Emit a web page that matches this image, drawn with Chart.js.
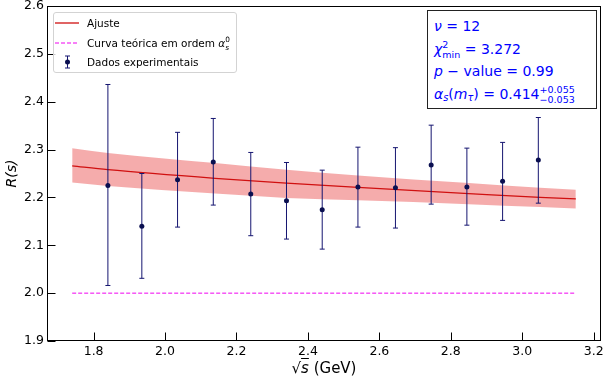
<!DOCTYPE html>
<html>
<head>
<meta charset="utf-8">
<script src="https://cdn.jsdelivr.net/npm/chart.js@4.4.0/dist/chart.umd.min.js"></script>
<style>
body{margin:0;background:#fff;}
#wrap{position:relative;width:605px;height:387px;font-family:'DejaVu Sans',sans-serif;color:#000;}
#c{position:absolute;left:0;top:0;}
#legend{position:absolute;left:53px;top:12px;width:182px;height:59px;border:1px solid #d3d3d3;border-radius:3px;background:rgba(255,255,255,0.8);font-size:10.5px;}
.row{position:absolute;left:0;height:16px;line-height:16px;width:180px;}
.row svg{position:absolute;left:1px;top:0;}
.row .t{position:absolute;left:33px;top:0;white-space:nowrap;}
#info{position:absolute;left:427px;top:10px;width:168px;height:97px;border:1px solid #222;background:#fff;color:#0000ff;font-size:14px;}
.ln{position:absolute;left:6px;height:26px;line-height:26px;white-space:nowrap;}
.ss{display:inline-block;vertical-align:middle;line-height:1;font-size:0.68em;}
.ss span{display:block;}
#xt{position:absolute;left:224px;top:358px;width:200px;height:20px;line-height:20px;text-align:center;font-size:15px;white-space:nowrap;}
.ov{text-decoration:overline;font-style:italic;}
.sm{font-size:0.7em;vertical-align:-0.25em;}
</style>
</head>
<body>
<div id="wrap">
  <canvas id="c" width="605" height="387"></canvas>

  <div id="legend">
    <div class="row" style="top:2px">
      <svg width="26" height="16"><line x1="0" y1="8" x2="24" y2="8" stroke="#d01010" stroke-width="1.3"/></svg>
      <span class="t">Ajuste</span>
    </div>
    <div class="row" style="top:21.5px">
      <svg width="26" height="16"><line x1="0" y1="8" x2="24" y2="8" stroke="#f000f0" stroke-width="1" stroke-dasharray="4,2"/></svg>
      <span class="t">Curva teórica em ordem <i>α</i><span class="ss" style="font-size:0.7em"><span>0</span><span><i>s</i></span></span></span>
    </div>
    <div class="row" style="top:41px">
      <svg width="26" height="16"><path d="M12.5 2 V14 M10 2 H15 M10 14 H15" stroke="#151570" stroke-width="1" fill="none"/><circle cx="12.5" cy="8" r="2.5" fill="#0a0f50"/></svg>
      <span class="t">Dados experimentais</span>
    </div>
  </div>

  <div id="info">
    <div class="ln" style="top:2px"><i>ν</i> = 12</div>
    <div class="ln" style="top:24.5px"><i>χ</i><span class="ss"><span>2</span><span>min</span></span> = 3.272</div>
    <div class="ln" style="top:47.2px"><i>p</i> − value = 0.99</div>
    <div class="ln" style="top:70px"><i>α</i><span class="sm"><i>s</i></span>(<i>m</i><span class="sm"><i>τ</i></span>) = 0.414<span class="ss"><span>+0.055</span><span>−0.053</span></span></div>
  </div>

  <div id="xt">√<span class="ov">s</span> (GeV)</div>
</div>

<script>
// eixos
const xTicks = [1.8, 2.0, 2.2, 2.4, 2.6, 2.8, 3.0, 3.2];
const yTicks = [1.9, 2.0, 2.1, 2.2, 2.3, 2.4, 2.5, 2.6];

const dataX = [1.84, 1.935, 2.035, 2.135, 2.24, 2.34, 2.44, 2.54, 2.645, 2.745, 2.845, 2.945, 3.045];
const dataY = [2.225, 2.140, 2.237, 2.274, 2.207, 2.193, 2.174, 2.222, 2.220, 2.268, 2.222, 2.234, 2.278];
const errHi = [2.436, 2.250, 2.336, 2.365, 2.294, 2.273, 2.257, 2.305, 2.304, 2.351, 2.303, 2.315, 2.367];
const errLo = [2.016, 2.031, 2.138, 2.184, 2.120, 2.113, 2.092, 2.138, 2.136, 2.186, 2.142, 2.152, 2.188];

// ajuste e banda
const fitX   = [1.74, 1.84, 2.14, 2.34, 2.54, 2.85, 3.05, 3.15];
const fitY   = [2.266, 2.258, 2.240, 2.230, 2.221, 2.208, 2.200, 2.197];
const bandHi = [2.303, 2.293, 2.272, 2.258, 2.246, 2.230, 2.220, 2.216];
const bandLo = [2.231, 2.224, 2.208, 2.199, 2.194, 2.186, 2.180, 2.177];

// curva teorica em ordem alpha_s^0
const lo0X = [1.74, 3.15];
const lo0Y = [2.0, 2.0];

const pts = (xs, ys) => xs.map((x, i) => ({x: x, y: ys[i]}));

Chart.defaults.font.family = "'DejaVu Sans', sans-serif";
Chart.defaults.color = '#000';

const extras = {
    id: 'extras',
    beforeDatasetDraw(chart, args) {
        if (args.index !== 4) return;
        const ctx = chart.ctx, x = chart.scales.x, y = chart.scales.y;
        ctx.save();
        ctx.strokeStyle = '#151570';
        ctx.lineWidth = 1;
        dataX.forEach((v, i) => {
            const px = x.getPixelForValue(v);
            const top = y.getPixelForValue(errHi[i]);
            const bot = y.getPixelForValue(errLo[i]);
            ctx.beginPath();
            ctx.moveTo(px, top); ctx.lineTo(px, bot);
            ctx.moveTo(px - 2.5, top); ctx.lineTo(px + 2.5, top);
            ctx.moveTo(px - 2.5, bot); ctx.lineTo(px + 2.5, bot);
            ctx.stroke();
        });
        ctx.restore();
    },
    afterDraw(chart) {
        const ctx = chart.ctx, a = chart.chartArea, x = chart.scales.x, y = chart.scales.y;
        const l = Math.round(a.left) + 0.5, r = Math.round(a.right) - 0.5;
        const t = Math.round(a.top) + 0.5, b = Math.round(a.bottom) - 0.5;
        ctx.save();
        ctx.strokeStyle = '#000';
        ctx.lineWidth = 1;
        ctx.strokeRect(l, t, r - l, b - t);
        ctx.beginPath();
        xTicks.forEach(v => {
            const px = Math.round(x.getPixelForValue(v)) + 0.5;
            ctx.moveTo(px, b); ctx.lineTo(px, b - 8);
        });
        yTicks.forEach(v => {
            const py = Math.round(y.getPixelForValue(v)) + 0.5;
            ctx.moveTo(l, py); ctx.lineTo(l + 8, py);
        });
        ctx.stroke();
        ctx.restore();
    }
};

new Chart(document.getElementById('c'), {
    type: 'line',
    data: {
        datasets: [
            {
                label: 'banda sup',
                data: pts(fitX, bandHi),
                fill: '+1',
                backgroundColor: 'rgba(240,128,128,0.65)',
                borderWidth: 0,
                pointRadius: 0,
                cubicInterpolationMode: 'monotone',
                order: 5,
            },
            {
                label: 'banda inf',
                data: pts(fitX, bandLo),
                fill: false,
                borderWidth: 0,
                pointRadius: 0,
                cubicInterpolationMode: 'monotone',
                order: 6,
            },
            {
                label: 'Ajuste',
                data: pts(fitX, fitY),
                borderColor: '#d01010',
                borderWidth: 1.3,
                pointRadius: 0,
                cubicInterpolationMode: 'monotone',
                order: 3,
            },
            {
                label: 'Curva teórica em ordem αs0',
                data: pts(lo0X, lo0Y),
                borderColor: '#f000f0',
                borderWidth: 1,
                borderDash: [4, 2],
                pointRadius: 0,
                order: 2,
            },
            {
                label: 'Dados experimentais',
                data: pts(dataX, dataY),
                showLine: false,
                pointRadius: 2.5,
                pointBackgroundColor: '#0a0f50',
                pointBorderWidth: 0,
                order: 1,
            },
        ],
    },
    options: {
        responsive: false,
        animation: false,
        layout: { padding: { top: 6, right: 4, left: 0, bottom: 0 } },
        plugins: {
            legend: { display: false },
            tooltip: { enabled: false },
        },
        scales: {
            x: {
                type: 'linear',
                min: 1.6695,
                max: 3.2205,
                grid: { display: false, drawTicks: false },
                border: { display: false },
                ticks: {
                    autoSkip: false,
                    maxRotation: 0,
                    padding: 3,
                    font: { size: 12.5 },
                    callback: v => v.toFixed(1),
                },
                afterBuildTicks: s => { s.ticks = xTicks.map(v => ({ value: v })); },
                afterFit: s => { s.height = 46; s.paddingLeft = 0; s.paddingRight = 0; },
            },
            y: {
                min: 1.9,
                max: 2.6,
                grid: { display: false, drawTicks: false },
                border: { display: false },
                ticks: {
                    padding: 3,
                    font: { size: 12.5 },
                    callback: v => v.toFixed(1),
                },
                title: {
                    display: true,
                    text: 'R(s)',
                    font: { size: 14, style: 'italic' },
                    padding: { top: 4, bottom: 0 },
                },
                afterBuildTicks: s => { s.ticks = yTicks.map(v => ({ value: v })); },
                afterFit: s => { s.width = 47; s.paddingTop = 0; s.paddingBottom = 0; },
            },
        },
    },
    plugins: [extras],
});
</script>
</body>
</html>
